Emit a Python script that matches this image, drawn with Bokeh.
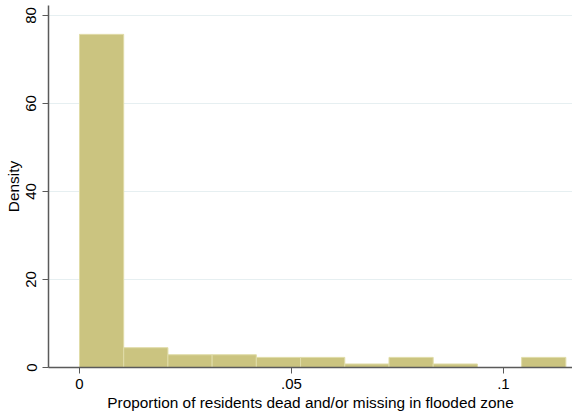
from bokeh.plotting import figure
from bokeh.models import Range1d, FixedTicker
from bokeh.embed import file_html
from bokeh.resources import INLINE

# Histogram data
bin_width = 0.01043
bin_left = [0.0, 0.01043, 0.02086, 0.03129, 0.04172, 0.05215, 0.06258, 0.07301, 0.08344, 0.09387, 0.1043]
density = [75.7, 4.5, 2.9, 2.9, 2.3, 2.3, 0.8, 2.3, 0.8, 0.0, 2.3]
x_ticks = [0, 0.05, 0.1]
x_tick_labels = ["0", ".05", ".1"]
y_ticks = [0, 20, 40, 60, 80]

FONT = "Liberation Sans"
AXIS_COL = "#5a5a5a"

p = figure(width=572, height=413, output_backend="svg", toolbar_location=None,
           x_range=Range1d(-0.00731, 0.1163), y_range=Range1d(0, 82.26),
           min_border_left=48, min_border_right=0, min_border_top=5, min_border_bottom=44)
p.outline_line_color = None
p.background_fill_color = "white"
p.border_fill_color = "white"

lefts = [b for b, d in zip(bin_left, density) if d > 0]
rights = [b + bin_width for b, d in zip(bin_left, density) if d > 0]
tops = [d for d in density if d > 0]
p.quad(left=lefts, right=rights, bottom=0, top=tops,
       fill_color="#cbc480", line_color="#e0dca8", line_width=1)

# axes
p.xaxis.ticker = FixedTicker(ticks=x_ticks)
p.xaxis.major_label_overrides = {t: l for t, l in zip(x_ticks, x_tick_labels)}
p.yaxis.ticker = FixedTicker(ticks=y_ticks)
p.xaxis.axis_label = "Proportion of residents dead and/or missing in flooded zone"
p.yaxis.axis_label = "Density"
for ax in (p.xaxis[0], p.yaxis[0]):
    ax.axis_line_color = AXIS_COL
    ax.axis_line_width = 1.5
    ax.major_tick_line_color = AXIS_COL
    ax.major_tick_out = 6
    ax.major_tick_in = 0
    ax.minor_tick_line_color = None
    ax.major_label_text_font = FONT
    ax.major_label_text_font_size = "15px"
    ax.major_label_text_color = "black"
    ax.axis_label_text_font = FONT
    ax.axis_label_text_font_size = "15.4px"
    ax.axis_label_text_font_style = "normal"
    ax.axis_label_text_color = "black"
p.yaxis.major_label_orientation = "vertical"
p.xaxis.major_label_standoff = 5
p.xaxis.axis_label_standoff = 2
p.yaxis.major_label_standoff = 6
p.yaxis.axis_label_standoff = 2

p.xgrid.grid_line_color = None
p.ygrid.grid_line_color = "#e6eff1"
p.ygrid.grid_line_width = 1

open("out.html", "w").write(file_html(p, INLINE))
